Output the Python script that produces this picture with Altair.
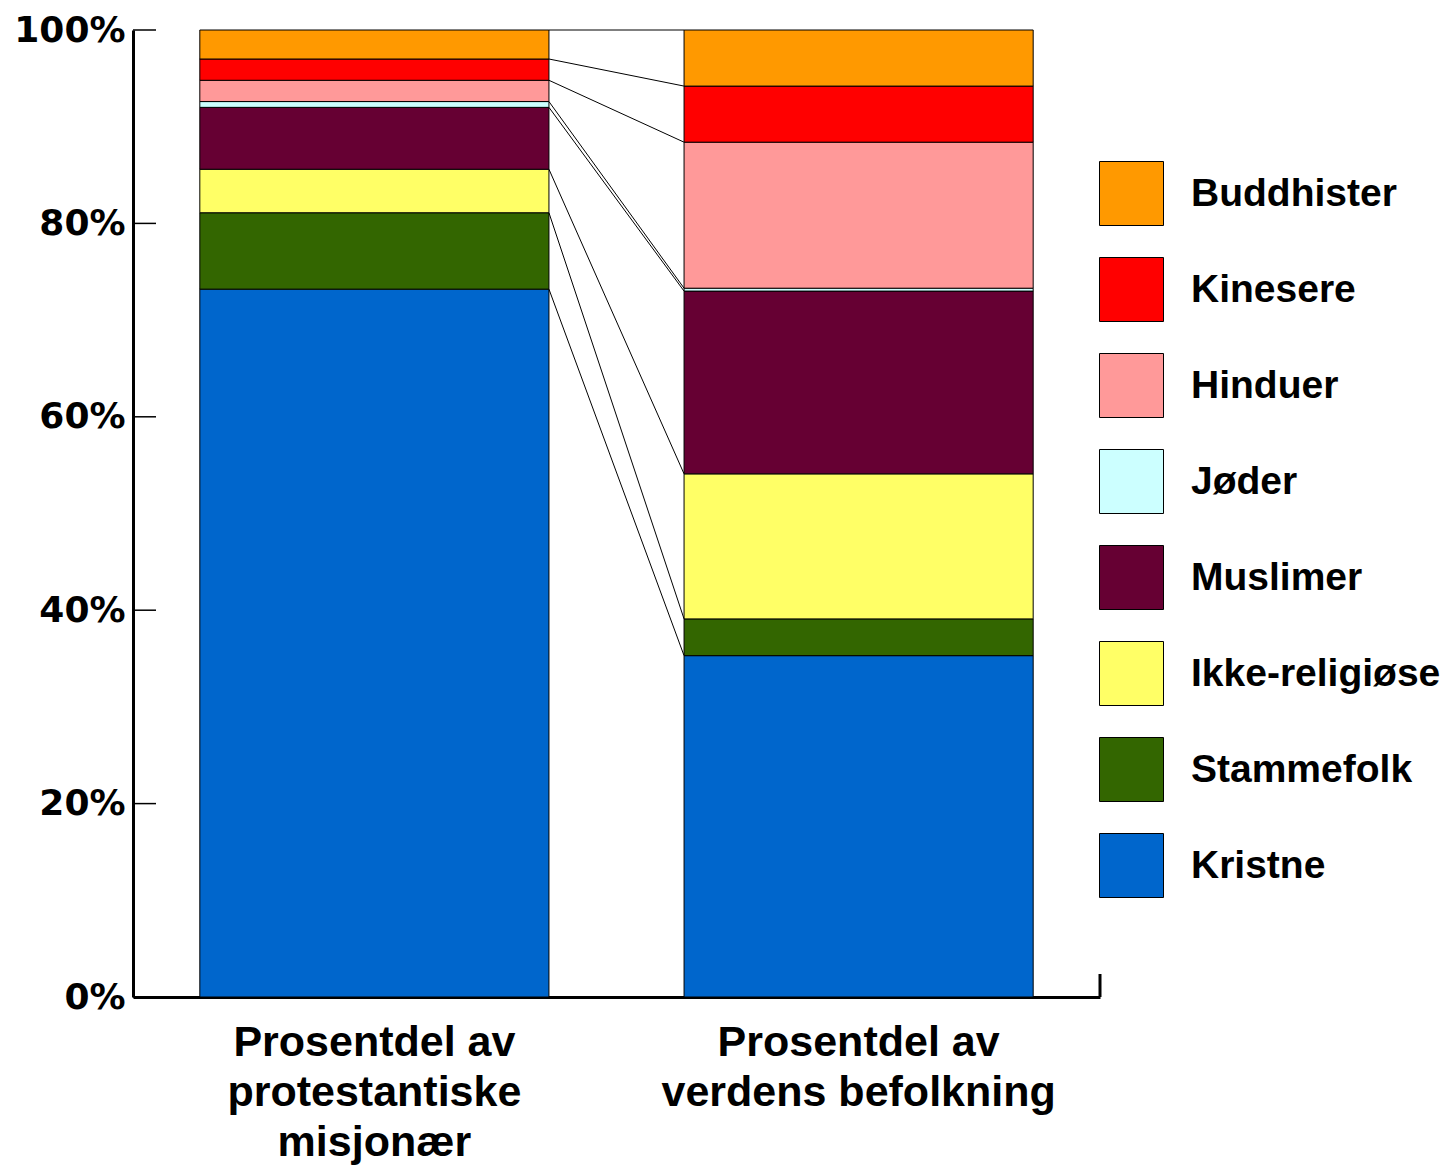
import altair as alt
import pandas as pd

# ---- data ----
religions = ["Buddhister", "Kinesere", "Hinduer", "Jøder", "Muslimer",
             "Ikke-religiøse", "Stammefolk", "Kristne"]
colors = ["#FF9900", "#FF0000", "#FF9999", "#CCFFFF", "#660033",
          "#FFFF66", "#336600", "#0066CC"]
categories = ["Prosentdel av\nprotestantiske\nmisjonær",
              "Prosentdel av\nverdens befolkning"]
missionaries = [3.0, 2.2, 2.2, 0.6, 6.4, 4.5, 7.9, 73.2]
world = [5.8, 5.8, 15.1, 0.3, 18.9, 15.0, 3.8, 35.3]
y_ticks = [0, 20, 40, 60, 80, 100]

# ---- build stacked table (Kristne at bottom) ----
rows = []
tops = {}
for cat, vals in zip(categories, [missionaries, world]):
    cum = 0.0
    for rel, v in reversed(list(zip(religions, vals))):
        rows.append({"cat": cat, "religion": rel, "start": cum, "end": cum + v})
        cum += v
        tops[(cat, rel)] = cum
bars_df = pd.DataFrame(rows)

conn_df = pd.DataFrame([
    {"from_cat": categories[0], "to_cat": categories[1],
     "y_from": tops[(categories[0], r)], "y_to": tops[(categories[1], r)]}
    for r in religions
])
ticks_df = pd.DataFrame({"tick": y_ticks})

W, H = 967, 967
yscale = alt.Scale(domain=[0, 100], nice=False, zero=True)
xscale = alt.Scale(domain=categories, paddingInner=0.279, paddingOuter=0.138)

bars = alt.Chart(bars_df).mark_bar(stroke="black", strokeWidth=1).encode(
    x=alt.X("cat:N", scale=xscale, sort=categories, title=None,
            axis=alt.Axis(labelExpr="split(datum.label, '\\n')",
                          labelFont="Liberation Sans", labelFontSize=43,
                          labelFontWeight="bold", labelColor="black",
                          labelLineHeight=50, labelPadding=24, labelAngle=0,
                          labelLimit=600, ticks=False, domainColor="black",
                          domainWidth=3, labelAlign="center")),
    y=alt.Y("start:Q", scale=yscale, title=None,
            axis=alt.Axis(values=y_ticks, labelExpr="datum.value + '%'",
                          labelFont="DejaVu Sans", labelFontSize=36,
                          labelFontWeight="bold", labelColor="black",
                          labelPadding=8, ticks=False, grid=False,
                          domainColor="black", domainWidth=3)),
    y2="end:Q",
    color=alt.Color("religion:N", title=None,
                    scale=alt.Scale(domain=religions, range=colors),
                    legend=alt.Legend(orient="none", legendX=966, legendY=131,
                                      symbolType="square", symbolSize=4096,
                                      symbolStrokeColor="black",
                                      symbolStrokeWidth=1, symbolOpacity=1,
                                      labelFont="Liberation Sans",
                                      labelFontSize=39, labelFontWeight="bold",
                                      labelColor="black", labelOffset=27,
                                      rowPadding=27, labelLimit=400)),
)

connectors = alt.Chart(conn_df).mark_rule(color="black", strokeWidth=1).encode(
    x=alt.X("from_cat:N", scale=xscale, sort=categories, bandPosition=1, title=None),
    x2=alt.X2("to_cat:N", bandPosition=0),
    y=alt.Y("y_from:Q", scale=yscale, title=None),
    y2="y_to:Q",
)

inner_ticks = alt.Chart(ticks_df).mark_rule(color="black", strokeWidth=1.5).encode(
    y=alt.Y("tick:Q", scale=yscale, title=None),
    x=alt.value(0),
    x2=alt.value(23),
)

end_tick = alt.Chart(ticks_df.head(1)).mark_rule(color="black", strokeWidth=3).encode(
    x=alt.value(W),
    y=alt.value(H - 23),
    y2=alt.value(H),
)

chart = alt.layer(bars, connectors, inner_ticks, end_tick).properties(
    width=W, height=H,
    autosize=alt.AutoSizeParams(type="none"),
    padding={"left": 125, "top": 22, "right": 344, "bottom": 171},
    background="white",
).configure_view(stroke=None)

chart.save("out.html", embed_options={"renderer": "svg", "actions": False})
